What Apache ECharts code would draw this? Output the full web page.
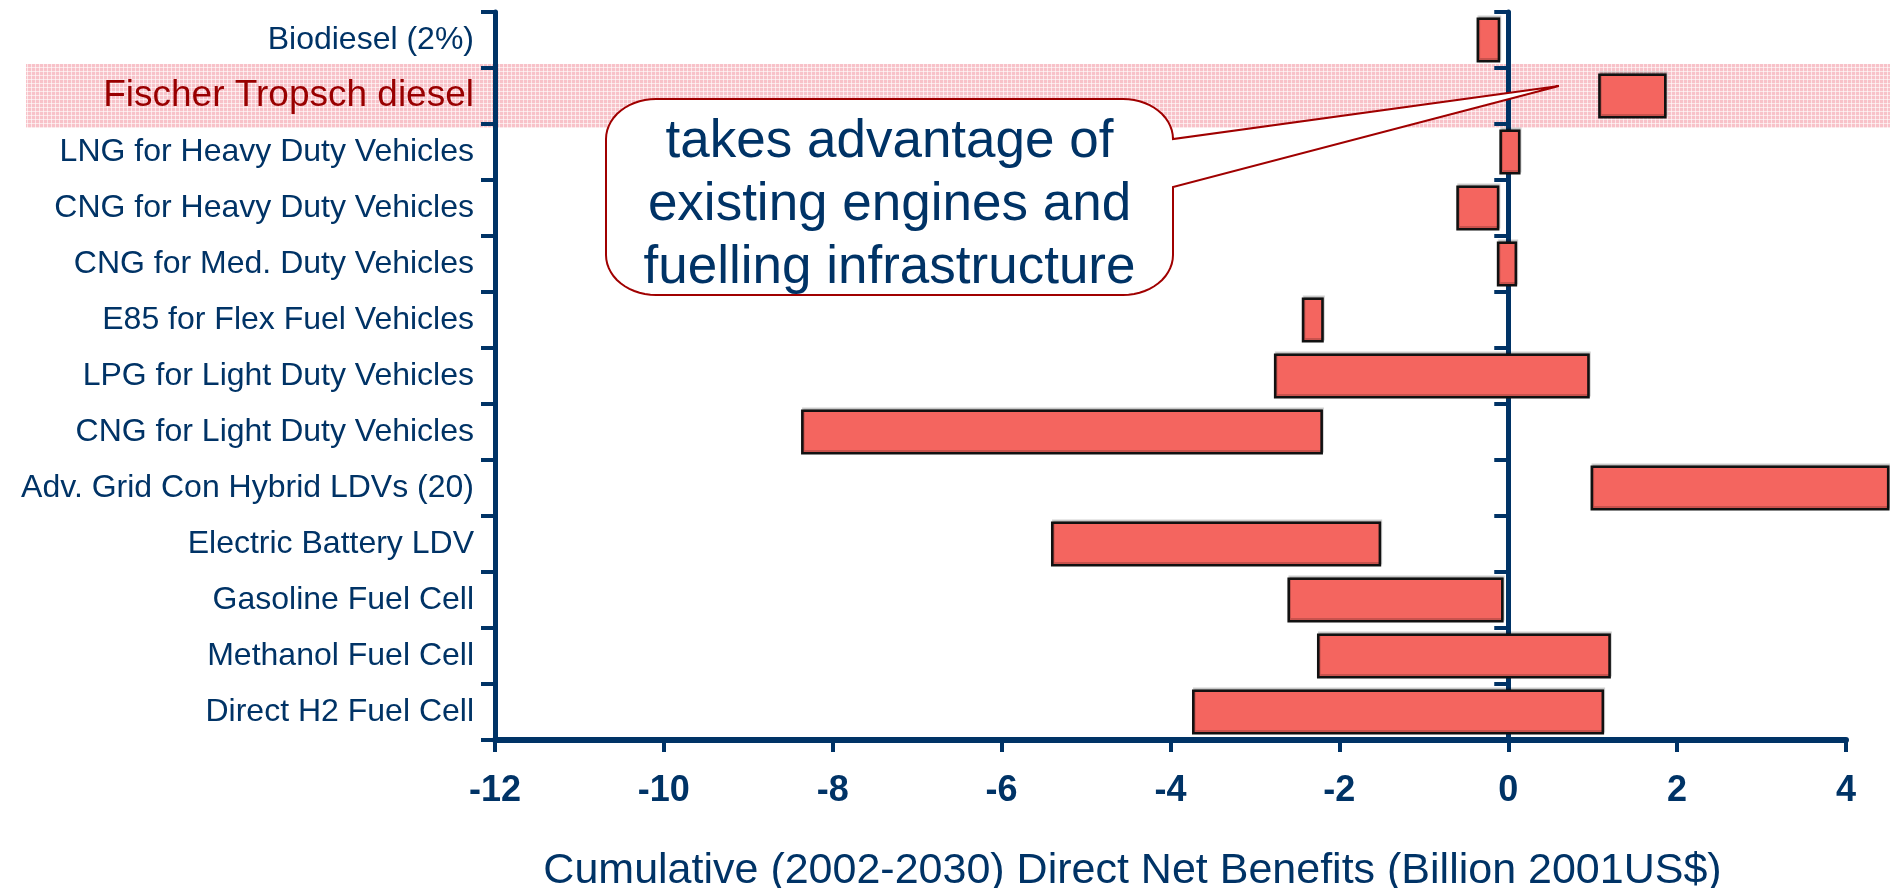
<!DOCTYPE html>
<html><head><meta charset="utf-8">
<script src="https://cdn.jsdelivr.net/npm/echarts@6/dist/echarts.min.js"></script>
<style>html,body{margin:0;padding:0;background:#fff}#c{width:1890px;height:888px}</style>
</head><body><div id="c"></div>
<script>
// ---- data ----
const categories = [
  'Biodiesel (2%)',
  'Fischer Tropsch diesel',
  'LNG for Heavy Duty Vehicles',
  'CNG for Heavy Duty Vehicles',
  'CNG for Med. Duty Vehicles',
  'E85 for Flex Fuel Vehicles',
  'LPG for Light Duty Vehicles',
  'CNG for Light Duty Vehicles',
  'Adv. Grid Con Hybrid LDVs (20)',
  'Electric Battery LDV',
  'Gasoline Fuel Cell',
  'Methanol Fuel Cell',
  'Direct H2 Fuel Cell'
];
const rangeLow  = [-0.36, 1.08, -0.09, -0.60, -0.12, -2.43, -2.76, -8.36, 0.99, -5.40, -2.60, -2.25, -3.73];
const rangeHigh = [-0.11, 1.86,  0.13, -0.12,  0.09, -2.20,  0.95, -2.21, 4.50, -1.52, -0.07,  1.20,  1.12];
const xMin = -12, xMax = 4, xStep = 2;
const axisTitle = 'Cumulative (2002-2030) Direct Net Benefits (Billion 2001US$)';
const highlighted = 'Fischer Tropsch diesel';
const calloutLines = ['takes advantage of', 'existing engines and', 'fuelling infrastructure'];
const calloutTarget = [0.6, 'Fischer Tropsch diesel'];

// ---- chart ----
const NAVY = '#003366';
const FONT = '"Liberation Sans", Arial, sans-serif';
const shadow = {textShadowColor: 'rgba(0,0,0,0.22)', textShadowOffsetX: 2, textShadowOffsetY: 2, textShadowBlur: 0};
const barData = categories.map((c, i) => [i, rangeLow[i], rangeHigh[i]]);

const chart = echarts.init(document.getElementById('c'), null, {renderer: 'canvas'});
const tickStyle = {show: true, length: 14, lineStyle: {color: NAVY, width: 4}};
chart.setOption({
  animation: false,
  grid: {left: 495, right: 44, top: 12, bottom: 148, containLabel: false, outerBoundsMode: 'none'},
  xAxis: {
    type: 'value', min: xMin, max: xMax, interval: xStep, z: 3,
    splitLine: {show: false},
    axisLine: {show: true, lineStyle: {color: NAVY, width: 6}},
    axisTick: {show: true, length: 12, lineStyle: {color: NAVY, width: 4}},
    axisLabel: Object.assign({color: NAVY, fontSize: 36, fontWeight: 'bold', fontFamily: FONT, margin: 33}, shadow),
    name: axisTitle, nameLocation: 'middle', nameGap: 110,
    nameTextStyle: Object.assign({color: NAVY, fontSize: 43, fontFamily: FONT, padding: [0, 76, 0, 0]}, shadow)
  },
  yAxis: [{
    type: 'category', inverse: true, data: categories, position: 'left', z: 3,
    axisLine: {show: true, onZero: false, lineStyle: {color: NAVY, width: 5}},
    axisTick: tickStyle,
    splitLine: {show: false},
    axisLabel: {
      margin: 21,
      formatter: v => v === highlighted ? '{hl|' + v + '}' : '{n|' + v + '}',
      rich: {
        n: Object.assign({color: NAVY, fontSize: 32, fontFamily: FONT}, shadow),
        hl: Object.assign({color: '#990000', fontSize: 37, fontFamily: FONT}, shadow)
      }
    }
  }, {
    type: 'category', inverse: true, data: categories, position: 'left', z: 3,
    axisLine: {show: true, onZero: true, lineStyle: {color: NAVY, width: 5}},
    axisTick: tickStyle,
    splitLine: {show: false},
    axisLabel: {show: false}
  }],
  series: [{
    type: 'custom', xAxisIndex: 0, yAxisIndex: 0, z: 4,
    encode: {x: [1, 2], y: 0},
    data: barData,
    renderItem: function (params, api) {
      const cat = api.value(0);
      const a = api.coord([api.value(1), cat]);
      const b = api.coord([api.value(2), cat]);
      const h = api.size([0, 1])[1] * 0.76;
      return {
        type: 'rect',
        shape: {x: a[0], y: a[1] - h / 2, width: b[0] - a[0], height: h},
        style: {fill: '#F4655F', stroke: '#111', lineWidth: 2.6,
                shadowColor: 'rgba(0,0,0,0.18)', shadowOffsetX: 1, shadowOffsetY: -2, shadowBlur: 0}
      };
    }
  }]
});

// ---- annotations (highlight band + callout) ----
const rowPix = chart.convertToPixel({xAxisIndex: 0, yAxisIndex: 0}, [0, highlighted]);
const rowH = chart.getModel().getComponent('yAxis', 0).axis.getBandWidth();
const tip = chart.convertToPixel({xAxisIndex: 0, yAxisIndex: 0}, calloutTarget);
const tipX = tip[0], tipY = tip[1] - 10;

// dotted pink pattern
const pc = document.createElement('canvas');
pc.width = 4; pc.height = 4;
const g = pc.getContext('2d');
g.fillStyle = '#F8C2C9'; g.fillRect(0, 0, 4, 4);
g.fillStyle = 'rgba(255,255,255,0.6)';
g.fillRect(3, 0, 1, 4); g.fillRect(0, 3, 4, 1);

// callout outline as polygon (rounded box + pointer)
const L = 606, R = 1173, T = 99, B = 295, rx = 50, ry = 40;
const y2 = 187;
function arc(cx, cy, a0, a1, out) {
  const n = 14;
  for (let i = 0; i <= n; i++) {
    const a = (a0 + (a1 - a0) * i / n) * Math.PI / 180;
    out.push([cx + rx * Math.cos(a), cy + ry * Math.sin(a)]);
  }
}
const pts = [];
arc(R - rx, T + ry, -90, 0, pts);
pts.push([tipX, tipY]);
pts.push([R, y2]);
arc(R - rx, B - ry, 0, 90, pts);
arc(L + rx, B - ry, 90, 180, pts);
arc(L + rx, T + ry, 180, 270, pts);

chart.setOption({
  graphic: [
    {type: 'rect', z: -10, silent: true,
     shape: {x: 26, y: rowPix[1] - rowH * 0.57, width: 1890, height: rowH * 1.14},
     style: {fill: {image: pc, repeat: 'repeat'}}},
    {type: 'polygon', z: 20, silent: true,
     shape: {points: pts},
     style: {fill: '#fff', stroke: '#A00000', lineWidth: 2}},
    {type: 'text', z: 21, silent: true,
     style: Object.assign({
       x: (L + R) / 2, y: 205, text: calloutLines.join('\n'),
       align: 'center', verticalAlign: 'middle',
       font: '53px ' + FONT, lineHeight: 63, fill: NAVY
     }, shadow)}
  ]
});
</script>
</body></html>
